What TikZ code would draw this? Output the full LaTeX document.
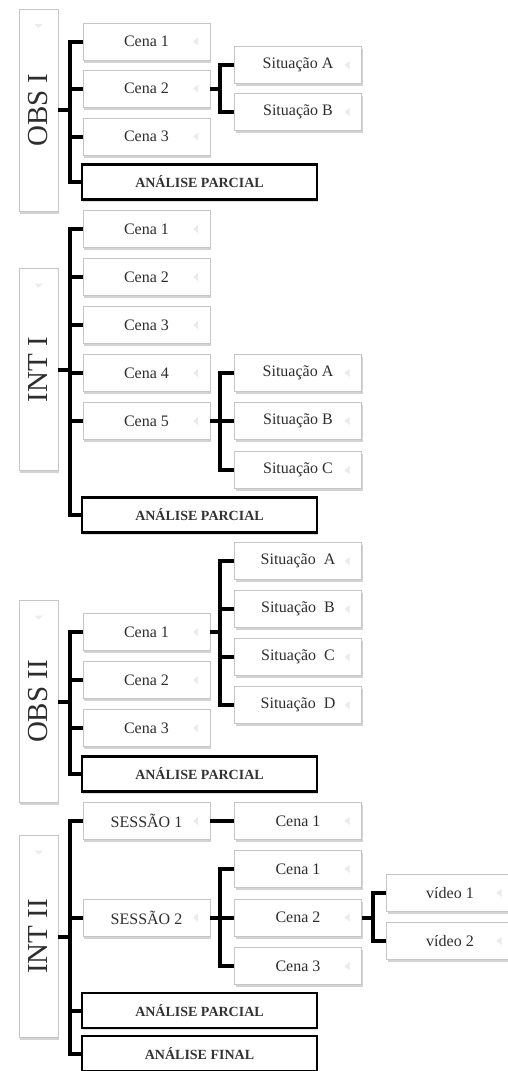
\documentclass[tikz,border=0pt]{standalone}
\usepackage{fontspec}
\setmainfont{Liberation Serif}
\usetikzlibrary{shadows}
\definecolor{ink}{HTML}{2E2E2E}
\begin{document}
\begin{tikzpicture}[x=1pt,y=-1pt,
  % raised frame look: four bevelled edges inside the border
  bevel/.style={path picture={
    \fill[gray!5]  (path picture bounding box.north west) -- (path picture bounding box.south west)
       -- ([shift={(3pt,3pt)}]path picture bounding box.south west) -- ([shift={(3pt,-3pt)}]path picture bounding box.north west) -- cycle;
    \fill[gray!22] (path picture bounding box.south west) -- (path picture bounding box.south east)
       -- ([shift={(-3pt,3pt)}]path picture bounding box.south east) -- ([shift={(3pt,3pt)}]path picture bounding box.south west) -- cycle;
    \fill[gray!15] (path picture bounding box.south east) -- (path picture bounding box.north east)
       -- ([shift={(-3pt,-3pt)}]path picture bounding box.north east) -- ([shift={(-3pt,3pt)}]path picture bounding box.south east) -- cycle;
  }},
  lefttri/.style={path picture={
    \fill[gray!16] ([xshift=-17pt]path picture bounding box.east) -- ([xshift=-12pt,yshift=4pt]path picture bounding box.east)
       -- ([xshift=-12pt,yshift=-4pt]path picture bounding box.east) -- cycle;
  }},
  downtri/.style={path picture={
    \fill[gray!16] ([yshift=-19pt]path picture bounding box.north) -- ([xshift=-4pt,yshift=-15pt]path picture bounding box.north)
       -- ([xshift=4pt,yshift=-15pt]path picture bounding box.north) -- cycle;
  }},
  raised/.style={rectangle, inner sep=0pt, fill=white, draw=gray!45, line width=0.6pt,
    drop shadow={shadow xshift=1pt, shadow yshift=-2.5pt, opacity=0.35, fill=gray}, bevel, text=ink},
  scene/.style={raised, lefttri, minimum width=127pt, minimum height=37pt,
    font=\fontsize{16}{19}\selectfont},
  stage/.style={raised, downtri, minimum width=39pt, minimum height=202pt,
    font=\fontsize{29}{33}\selectfont},
  review/.style={rectangle, inner sep=0pt, fill=white, draw=black, line width=2.2pt,
    minimum width=235pt, minimum height=35pt, text=black!80,
    drop shadow={shadow xshift=1pt, shadow yshift=-2pt, opacity=0.25, fill=gray},
    font=\fontsize{14}{17}\selectfont\bfseries},
  conn/.style={draw=black, line width=4pt, line join=miter}
]
\useasboundingbox (0,0) rectangle (507,1071);

% ---------------- OBS I ----------------
\node[stage] (L1) at (38.5,110) {\rotatebox{90}{OBS I}};
\node[scene] (a11) at (146.5,41.5) {Cena 1};
\node[scene] (a12) at (146.5,88.5) {Cena 2};
\node[scene] (a13) at (146.5,136.5) {Cena 3};
\node[review] (p1) at (199.5,182) {ANÁLISE PARCIAL};
\node[scene] (s11) at (298,65) {Situação A};
\node[scene] (s12) at (298,112) {Situação B};
\coordinate (t1) at (70,110);
\coordinate (u1) at (220,88.5);
\draw[conn] (L1.east) -- (t1);
\draw[conn] (a11.west) -- (a11.west -| t1) -- (p1.west -| t1) -- (p1.west);
\draw[conn] (a12.west) -- (a12.west -| t1);
\draw[conn] (a13.west) -- (a13.west -| t1);
\draw[conn] (a12.east) -- (u1);
\draw[conn] (s11.west) -- (s11.west -| u1) -- (s12.west -| u1) -- (s12.west);

% ---------------- INT I ----------------
\node[stage] (L2) at (38.5,369.5) {\rotatebox{90}{INT I}};
\node[scene] (a21) at (146.5,229) {Cena 1};
\node[scene] (a22) at (146.5,277) {Cena 2};
\node[scene] (a23) at (146.5,325) {Cena 3};
\node[scene] (a24) at (146.5,373) {Cena 4};
\node[scene] (a25) at (146.5,421) {Cena 5};
\node[review] (p2) at (199.5,515) {ANÁLISE PARCIAL};
\node[scene] (s21) at (298,373) {Situação A};
\node[scene] (s22) at (298,421) {Situação B};
\node[scene] (s23) at (298,470) {Situação C};
\coordinate (t2) at (70,369.5);
\coordinate (u2) at (220,421);
\draw[conn] (L2.east) -- (t2);
\draw[conn] (a21.west) -- (a21.west -| t2) -- (p2.west -| t2) -- (p2.west);
\foreach \n in {a22,a23,a24,a25} \draw[conn] (\n.west) -- (\n.west -| t2);
\draw[conn] (a25.east) -- (u2);
\draw[conn] (s21.west) -- (s21.west -| u2) -- (s23.west -| u2) -- (s23.west);
\draw[conn] (s22.west) -- (s22.west -| u2);

% ---------------- OBS II ----------------
\node[stage] (L3) at (38.5,701.5) {\rotatebox{90}{OBS II}};
\node[scene] (a31) at (146.5,632) {Cena 1};
\node[scene] (a32) at (146.5,680) {Cena 2};
\node[scene] (a33) at (146.5,728) {Cena 3};
\node[review] (p3) at (199.5,774) {ANÁLISE PARCIAL};
\node[scene] (s31) at (298,561) {Situação~ A};
\node[scene] (s32) at (298,609) {Situação~ B};
\node[scene] (s33) at (298,657) {Situação~ C};
\node[scene] (s34) at (298,705) {Situação~ D};
\coordinate (t3) at (70,701.5);
\coordinate (u3) at (220,633);
\draw[conn] (L3.east) -- (t3);
\draw[conn] (a31.west) -- (a31.west -| t3) -- (p3.west -| t3) -- (p3.west);
\draw[conn] (a32.west) -- (a32.west -| t3);
\draw[conn] (a33.west) -- (a33.west -| t3);
\draw[conn] (a31.east) -- (a31.east -| u3);
\draw[conn] (s31.west) -- (s31.west -| u3) -- (s34.west -| u3) -- (s34.west);
\draw[conn] (s32.west) -- (s32.west -| u3);
\draw[conn] (s33.west) -- (s33.west -| u3);

% ---------------- INT II ----------------
\node[stage] (L4) at (38.5,936.5) {\rotatebox{90}{INT II}};
\node[scene] (e1) at (146.5,821) {SESSÃO 1};
\node[scene] (e2) at (146.5,917.5) {SESSÃO 2};
\node[review] (p4) at (199.5,1010.5) {ANÁLISE PARCIAL};
\node[review] (f4) at (199.5,1053.5) {ANÁLISE FINAL};
\node[scene] (k0) at (298,821) {Cena 1};
\node[scene] (k1) at (298,869) {Cena 1};
\node[scene] (k2) at (298,917.5) {Cena 2};
\node[scene] (k3) at (298,966) {Cena 3};
\node[scene] (v1) at (450,893) {vídeo 1};
\node[scene] (v2) at (450,941) {vídeo 2};
\coordinate (t4) at (70,936.5);
\coordinate (u4) at (220,917.5);
\coordinate (w4) at (373,917.5);
\draw[conn] (L4.east) -- (t4);
\draw[conn] (e1.west) -- (e1.west -| t4) -- (f4.west -| t4) -- (f4.west);
\draw[conn] (e2.west) -- (e2.west -| t4);
\draw[conn] (p4.west) -- (p4.west -| t4);
\draw[conn] (e1.east) -- (k0.west);
\draw[conn] (e2.east) -- (u4);
\draw[conn] (k1.west) -- (k1.west -| u4) -- (k3.west -| u4) -- (k3.west);
\draw[conn] (k2.west) -- (k2.west -| u4);
\draw[conn] (k2.east) -- (w4);
\draw[conn] (v1.west) -- (v1.west -| w4) -- (v2.west -| w4) -- (v2.west);
\end{tikzpicture}
\end{document}
